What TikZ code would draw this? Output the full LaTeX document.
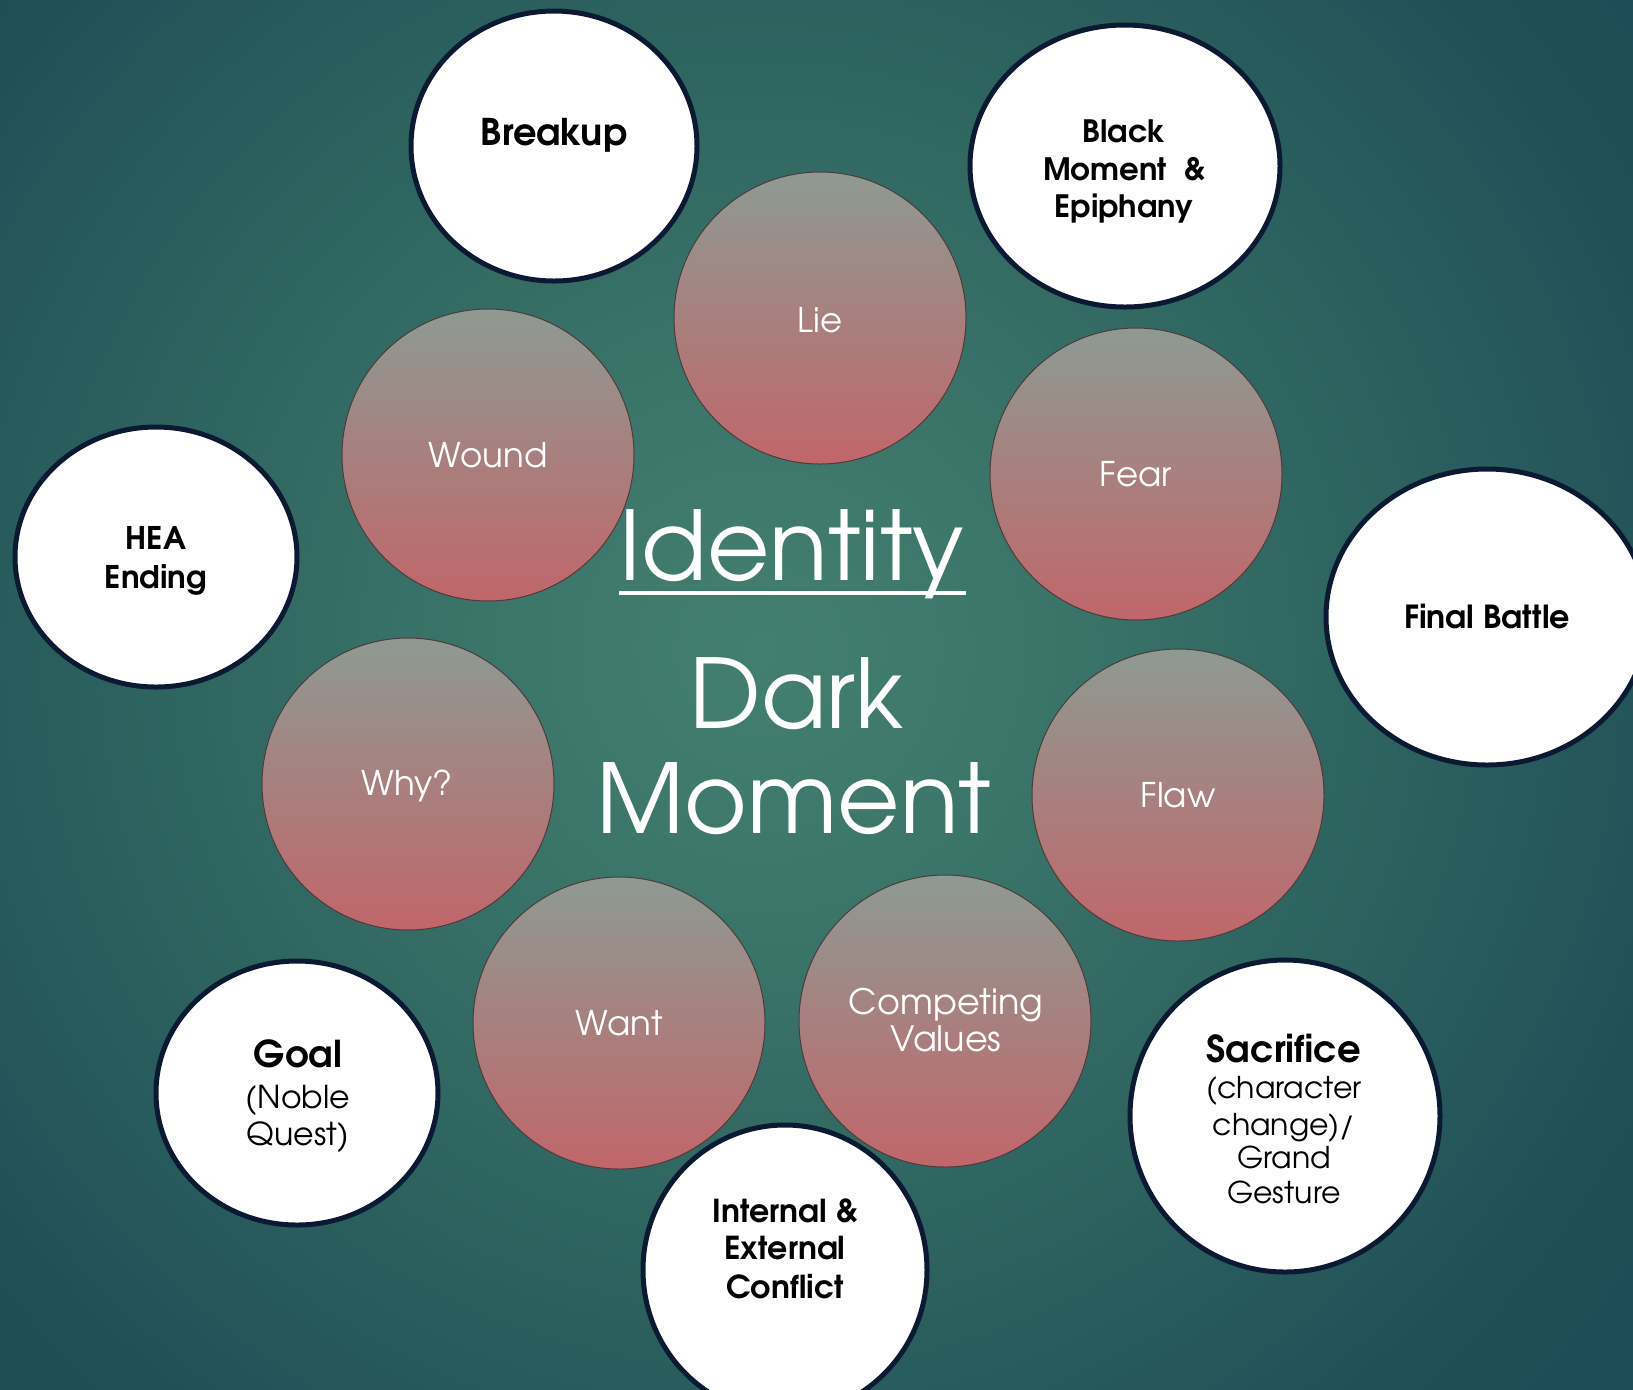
\documentclass[tikz,border=0pt]{standalone}
\usepackage{fontspec}
\setmainfont{texgyreadventor}[Extension=.otf, UprightFont=*-regular, BoldFont=*-bold]
\usetikzlibrary{shapes.geometric}
\definecolor{bgA}{HTML}{437F71}
\definecolor{bgB}{HTML}{3B7569}
\definecolor{bgC}{HTML}{2E6460}
\definecolor{bgD}{HTML}{1F4E57}
\definecolor{bgE}{HTML}{1A4657}
\definecolor{navy}{HTML}{0B1A32}
\definecolor{pinkTop}{HTML}{8E9A93}
\definecolor{pinkBot}{HTML}{C1666A}
\definecolor{pinkEdge}{HTML}{4E3A3C}
\pgfdeclareradialshading{bgrad}{\pgfpoint{0bp}{0bp}}{color(0bp)=(bgA); color(7bp)=(bgB); color(15bp)=(bgC); color(25bp)=(bgD); color(50bp)=(bgE)}
\begin{document}
\begin{tikzpicture}[x=0.5pt,y=-0.5pt,
  whitec/.style={ellipse, draw=navy, line width=2.5pt, fill=white, inner sep=0pt},
  pinkc/.style={circle, draw=pinkEdge, line width=0.5pt, top color=pinkTop, bottom color=pinkBot, minimum size=146pt, inner sep=0pt},
  plbl/.style={anchor=base, inner sep=0pt, text=white, font=\fontsize{17}{20}\selectfont},
  blbl/.style={anchor=base, inner sep=0pt, text=black, font=\bfseries\fontsize{15.4}{18}\selectfont},
  bblbl/.style={anchor=base, inner sep=0pt, text=black, font=\bfseries\fontsize{18.5}{20}\selectfont},
  rlbl/.style={anchor=base, inner sep=0pt, text=black, font=\fontsize{15}{18}\selectfont},
  bigt/.style={anchor=base, inner sep=0pt, text=white, font=\fontsize{48}{50}\selectfont}]
\useasboundingbox (0,0) rectangle (1633,1389);
\begin{scope}
  \clip (0,0) rectangle (1633,1389);
  \shade[shading=bgrad] (-240,-350) rectangle (1760,1650);
\end{scope}

% white circles
\node[whitec, minimum width=143pt, minimum height=135pt] (breakup) at (554,146) {};
\node[whitec, minimum width=155pt, minimum height=141pt] (black) at (1125,166) {};
\node[whitec, minimum width=141pt, minimum height=130pt] (hea) at (156,557) {};
\node[whitec, minimum width=161pt, minimum height=148pt] (final) at (1487,617) {};
\node[whitec, minimum width=141pt, minimum height=132pt] (goal) at (297,1093) {};
\node[whitec, minimum width=142pt, minimum height=145pt] (conflict) at (785,1270) {};
\node[whitec, minimum width=155pt, minimum height=156pt] (sacrifice) at (1285,1116) {};

% pink circles
\node[pinkc] (lie) at (820,318) {};
\node[pinkc] (wound) at (488,455) {};
\node[pinkc] (fear) at (1136,474) {};
\node[pinkc] (why) at (408,784) {};
\node[pinkc] (flaw) at (1178,795) {};
\node[pinkc] (want) at (619,1023) {};
\node[pinkc] (values) at (945,1021) {};

% pink labels
\node[plbl] (tlie) at (820,332) {Lie};
\node[plbl] (twound) at (488,467) {Wound};
\node[plbl] (tfear) at (1136,486) {Fear};
\node[plbl] (twhy) at (407,795) {Why?};
\node[plbl] (tflaw) at (1178,807) {Flaw};
\node[plbl] (twant) at (619,1035) {Want};
\node[plbl, font=\fontsize{17.5}{20}\selectfont] (tval1) at (946,1014) {Competing};
\node[plbl, font=\fontsize{17.5}{20}\selectfont] (tval2) at (946,1051) {Values};

% centre text
\node[bigt] (tid) at (792,580) {Identity};
\draw[white, line width=2pt] (619,593) -- (966,593);
\node[bigt] (tdark) at (797,728) {Dark};
\node[bigt] (tmoment) at (794,833) {Moment};

% white labels
\node[blbl, font=\bfseries\fontsize{18.4}{20}\selectfont] (tbreak) at (554,145) {Breakup};
\node[blbl] (tblack1) at (1124,142) {Black};
\node[blbl] (tblack2) at (1124,180) {Moment\ \ \&};
\node[blbl] (tblack3) at (1124,217) {Epiphany};
\node[blbl, font=\bfseries\fontsize{15.6}{18}\selectfont] (thea1) at (156,549) {HEA};
\node[blbl, font=\bfseries\fontsize{15.6}{18}\selectfont] (thea2) at (156,588) {Ending};
\node[blbl, font=\bfseries\fontsize{15.9}{18}\selectfont] (tfinal) at (1487,628) {Final Battle};
\node[bblbl] (tgoal) at (298,1067) {Goal};
\node[rlbl, font=\fontsize{15.8}{18}\selectfont] (tgoal2) at (298,1108) {(Noble};
\node[rlbl, font=\fontsize{15.8}{18}\selectfont] (tgoal3) at (298,1145) {Quest)};
\node[blbl, font=\bfseries\fontsize{15.8}{18}\selectfont] (tconf1) at (785,1222) {Internal \&};
\node[blbl, font=\bfseries\fontsize{15.8}{18}\selectfont] (tconf2) at (785,1259) {External};
\node[blbl, font=\bfseries\fontsize{15.8}{18}\selectfont] (tconf3) at (785,1298) {Conflict};
\node[bblbl] (tsac) at (1284,1062) {Sacrifice};
\node[rlbl] (tsac2) at (1284,1098) {(character};
\node[rlbl] (tsac3) at (1284,1135) {change)/};
\node[rlbl] (tsac4) at (1284,1168) {Grand};
\node[rlbl] (tsac5) at (1284,1203) {Gesture};
\end{tikzpicture}
\end{document}
